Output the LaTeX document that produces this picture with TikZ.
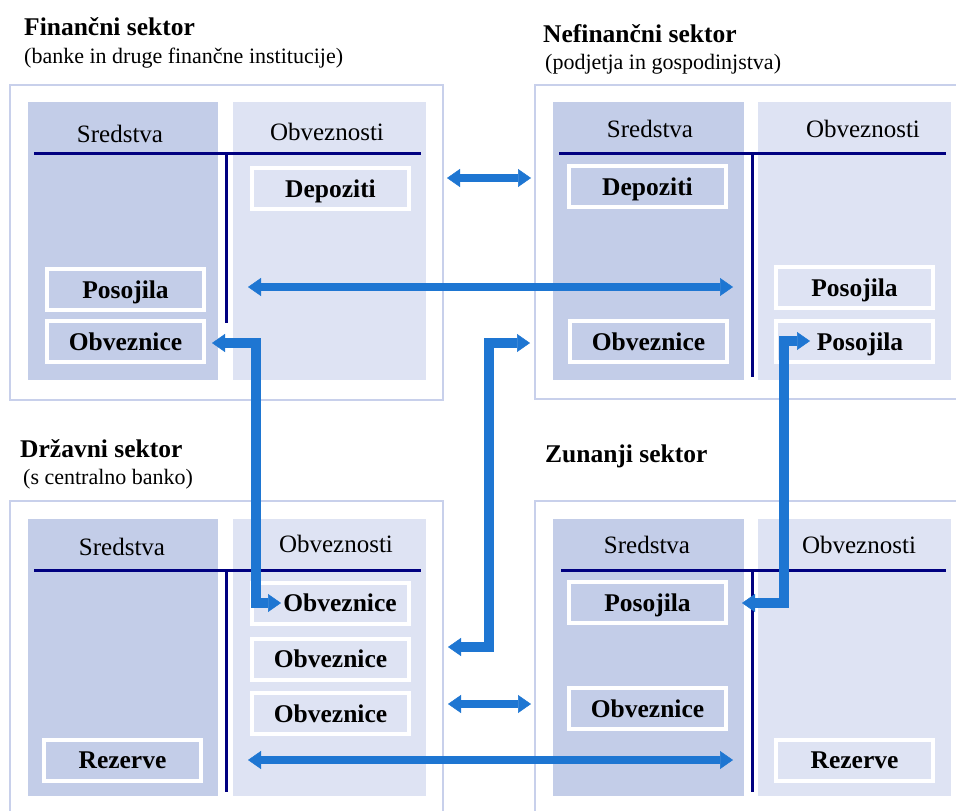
\documentclass[tikz,border=0pt]{standalone}
\usepackage{fontspec}
\setmainfont{Liberation Serif}
\usetikzlibrary{arrows.meta}
\definecolor{navy}{RGB}{0,0,128}
\definecolor{colA}{RGB}{195,205,232}
\definecolor{colL}{RGB}{222,227,243}
\definecolor{frm}{RGB}{200,208,235}
\definecolor{arr}{RGB}{30,118,210}
\begin{document}
\begin{tikzpicture}[x=1pt,y=-1pt,
  frame/.style={draw=frm,line width=1.5pt},
  tline/.style={draw=navy,line width=3pt},
  item/.style={draw=white,line width=4pt,minimum width=157pt,minimum height=41pt,inner sep=0pt,
    font=\fontsize{25.5}{28}\selectfont\bfseries,text height=17pt,text depth=0pt},
  head/.style={font=\fontsize{25}{28}\selectfont,anchor=base,inner sep=0pt},
  ttl/.style={font=\fontsize{25.5}{28}\selectfont\bfseries,anchor=base west,inner sep=0pt},
  sub/.style={font=\fontsize{22}{26}\selectfont,anchor=base west,inner sep=0pt},
  flow/.style={draw=arr,line width=8pt,line join=miter,
    >={Triangle[width=18pt,length=13pt,line width=0.5pt]},<->},
  bendflow/.style={flow,line width=9.5pt}
]
\path[use as bounding box,fill=white] (0,0) rectangle (956,811);

% ---------- Financni sektor ----------
\node[ttl] (t1) at (24,35) {Finančni sektor};
\node[sub] (s1) at (24,63) {(banke in druge finančne institucije)};
\draw[frame] (10,85) rectangle (443,400);
\fill[colA] (28,102) rectangle (218,380);
\fill[colL] (233,102) rectangle (426,380);
\draw[tline] (34,153) -- (421,153);
\draw[tline] (226,152) -- (226,323);
\node[head] (f-sr) at (120,142) {Sredstva};
\node[head] (f-ob) at (327,140) {Obveznosti};
\node[item,fill=colL] (f-dep) at (330.5,188.5) {Depoziti};
\node[item,fill=colA] (f-pos) at (125.5,289.5) {Posojila};
\node[item,fill=colA] (f-obv) at (125.5,341.5) {Obveznice};

% ---------- Nefinancni sektor ----------
\node[ttl] (t2) at (543,42) {Nefinančni sektor};
\node[sub] (s2) at (545,69) {(podjetja in gospodinjstva)};
\draw[frame] (958,85) -- (535,85) -- (535,399) -- (958,399);
\fill[colA] (553,102) rectangle (744,380);
\fill[colL] (758,102) rectangle (951,380);
\draw[tline] (559,153) -- (946,153);
\draw[tline] (752,152) -- (752,377);
\node[head] (n-sr) at (650,137) {Sredstva};
\node[head] (n-ob) at (863,137) {Obveznosti};
\node[item,fill=colA] (n-dep) at (647.5,186.5) {Depoziti};
\node[item,fill=colA] (n-obv) at (648.5,341.5) {Obveznice};
\node[item,fill=colL] (n-pos) at (854.5,287.5) {Posojila};
\node[item,fill=colL] (n-pos2) at (854.5,341.5) {\hspace*{11pt}Posojila};

% ---------- Drzavni sektor ----------
\node[ttl] (t3) at (20,457) {Državni sektor};
\node[sub] (s3) at (23,484) {(s centralno banko)};
\draw[frame] (10,812) -- (10,501) -- (443,501) -- (443,812);
\fill[colA] (28,519) rectangle (218,796);
\fill[colL] (233,519) rectangle (426,796);
\draw[tline] (34,570) -- (421,570);
\draw[tline] (226,569) -- (226,792);
\node[head] (d-sr) at (122,555) {Sredstva};
\node[head] (d-ob) at (336,552) {Obveznosti};
\node[item,fill=colL] (d-obv1) at (330.5,603) {\hspace*{19pt}Obveznice};
\node[item,fill=colL] (d-obv2) at (330.5,659) {Obveznice};
\node[item,fill=colL] (d-obv3) at (330.5,713.5) {Obveznice};
\node[item,fill=colA] (d-rez) at (122.5,760) {Rezerve};

% ---------- Zunanji sektor ----------
\node[ttl] (t4) at (545,462) {Zunanji sektor};
\draw[frame] (958,501) -- (535,501) -- (535,812);
\fill[colA] (553,519) rectangle (744,796);
\fill[colL] (758,519) rectangle (951,796);
\draw[tline] (561,570) -- (946,570);
\draw[tline] (752,569) -- (752,792);
\node[head] (z-sr) at (647,553) {Sredstva};
\node[head] (z-ob) at (859,553) {Obveznosti};
\node[item,fill=colA] (z-pos) at (647.5,602.5) {Posojila};
\node[item,fill=colA] (z-obv) at (647.5,708.5) {Obveznice};
\node[item,fill=colL] (z-rez) at (854.5,760) {Rezerve};

% ---------- arrow end points ----------
\coordinate (a1l) at (447,178);
\coordinate (a1r) at (531,178);
\coordinate (a2l) at (248,287);
\coordinate (a2r) at (733,287);
\coordinate (a3a) at (212,343);
\coordinate (a3k) at (256,343);
\coordinate (a3b) at (281,603);
\coordinate (a4a) at (448,647);
\coordinate (a4k) at (489,647);
\coordinate (a4b) at (530,343);
\coordinate (a5l) at (448,704);
\coordinate (a5r) at (531,704);
\coordinate (a6l) at (248,760);
\coordinate (a6r) at (733,760);
\coordinate (a7a) at (810,341);
\coordinate (a7k) at (784,341);
\coordinate (a7b) at (742,603);

% ---------- arrows ----------
\draw[flow] (a1l) -- (a1r);
\draw[flow] (a2l) -- (a2r);
\draw[bendflow] (a3a) -- (a3k) |- (a3b);
\draw[bendflow] (a4a) -- (a4k) |- (a4b);
\draw[flow] (a5l) -- (a5r);
\draw[flow] (a6l) -- (a6r);
\draw[bendflow] (a7a) -- (a7k) |- (a7b);
\end{tikzpicture}
\end{document}
